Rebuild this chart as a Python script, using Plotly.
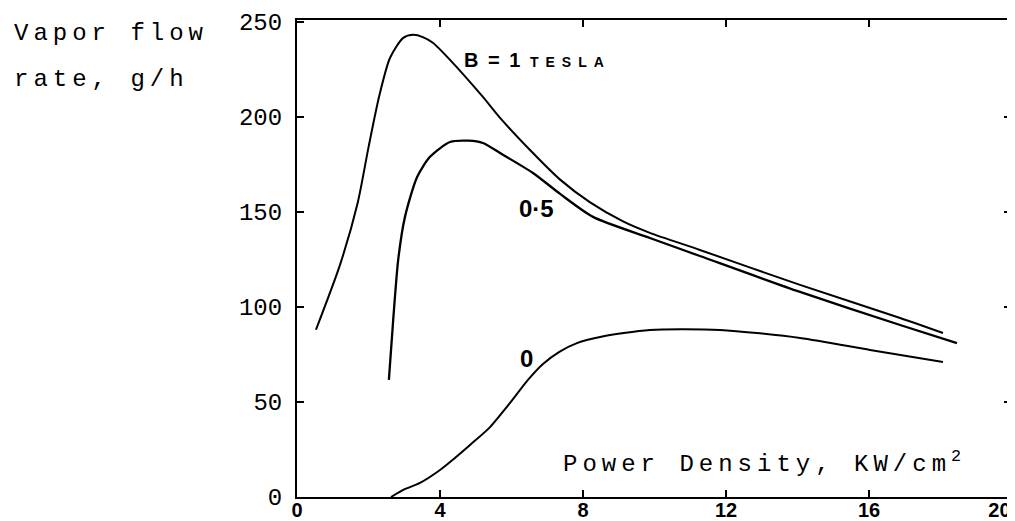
import plotly.graph_objects as go

# ---- data ----
b1_x = [0.53, 1.20, 1.70, 2.00, 2.30, 2.60, 2.97, 3.25, 3.52, 3.80, 4.28, 5.20, 5.68, 6.60, 7.36, 8.20, 9.12, 9.87, 11.27, 14.07, 16.87, 18.07]
b1_y = [88, 122, 155, 184, 211, 231, 241.6, 243.2, 242, 239, 230, 210.5, 199.5, 181, 167, 155, 145, 139, 130, 111.6, 94.2, 86.3]

b05_x = [2.57, 2.69, 2.83, 3.02, 3.36, 3.72, 4.28, 4.80, 5.20, 5.68, 6.60, 7.36, 8.28, 9.87, 11.27, 14.07, 16.87, 18.46]
b05_y = [61.6, 93, 124.7, 147.4, 168.4, 179, 186.8, 187.5, 186.3, 181, 170.5, 159.5, 147.4, 136.3, 126.8, 107.9, 90.5, 81]

b0_x = [2.63, 3.00, 3.44, 4.00, 4.28, 4.84, 5.40, 5.96, 6.46, 6.88, 7.35, 7.83, 8.48, 9.87, 11.83, 14.07, 16.03, 18.07]
b0_y = [0, 4, 7.4, 14.2, 18.4, 27.4, 36.8, 49.5, 61.6, 70, 76.5, 81, 84.2, 87.9, 87.9, 83.7, 77.4, 71]

x_tick_marks = [4, 8, 12, 16]
x_label_text = ["0", "4", "8", "12", "16", "20"]
x_label_pos = [0, 4, 8, 12, 16, 19.65]   # typed labels; the last one sits just inside the page edge
y_ticks = [0, 50, 100, 150, 200, 250]
y_minor = [50, 100, 150, 200]

TYPE = "Liberation Mono"
BOLD = "Liberation Sans"

fig = go.Figure()
fig.add_trace(go.Scatter(x=b1_x, y=b1_y, mode="lines", xaxis="x2", yaxis="y",
                         line=dict(color="black", width=2, shape="spline", smoothing=0.7),
                         showlegend=False, hoverinfo="skip"))
fig.add_trace(go.Scatter(x=b05_x, y=b05_y, mode="lines", xaxis="x", yaxis="y",
                         line=dict(color="black", width=2.3, shape="spline", smoothing=0.7),
                         showlegend=False, hoverinfo="skip"))
fig.add_trace(go.Scatter(x=b0_x, y=b0_y, mode="lines", xaxis="x", yaxis="y2",
                         line=dict(color="black", width=2, shape="spline", smoothing=0.7),
                         showlegend=False, hoverinfo="skip"))

# the page body adds an 8px offset; margins compensate so the plot box sits at
# x 297..1012, y 20..497 in the browser window
fig.update_layout(
    width=1015, height=521,
    margin=dict(l=289, r=11, t=12, b=32),
    paper_bgcolor="white", plot_bgcolor="white",
    showlegend=False,
    xaxis=dict(range=[0, 20], tickvals=x_tick_marks, showticklabels=False,
               showgrid=False, zeroline=False, showline=True, linecolor="black", linewidth=2,
               mirror="ticks", ticks="inside", ticklen=7, tickwidth=2, tickcolor="black",
               automargin=False, fixedrange=True),
    xaxis2=dict(range=[0, 20], overlaying="x", side="bottom", anchor="y",
                tickvals=x_label_pos, ticktext=x_label_text, ticks="",
                showline=False, showgrid=False, zeroline=False,
                ticklabelstandoff=-1, ticklabeloverflow="allow",
                tickfont=dict(family=BOLD, size=20, color="black", weight="bold"),
                automargin=False, fixedrange=True),
    yaxis=dict(range=[0, 251], tickvals=y_ticks, ticktext=[str(v) for v in y_ticks],
               showgrid=False, zeroline=False, showline=True, linecolor="black", linewidth=2,
               ticks="inside", ticklen=7, tickwidth=2, tickcolor="black",
               ticklabelstandoff=8,
               tickfont=dict(family=TYPE, size=24, color="black"),
               automargin=False, fixedrange=True),
    yaxis2=dict(range=[0, 251], overlaying="y", side="right", anchor="x",
                tickvals=y_minor, showticklabels=False, ticks="inside", ticklen=8,
                tickwidth=2, tickcolor="black", showline=False, showgrid=False,
                zeroline=False, automargin=False, fixedrange=True),
)

SP = "letter-spacing:5px"
ann = []
# y-axis title at the top-left
ann.append(dict(text=f"<span style='{SP}'>Vapor flow</span>", xref="paper", yref="paper",
                x=-0.3986, y=1.0 - (34 - 20) / 477,
                xanchor="left", yanchor="middle", showarrow=False,
                font=dict(family=TYPE, size=24, color="black")))
ann.append(dict(text=f"<span style='{SP}'>rate, g/h</span>", xref="paper", yref="paper",
                x=-0.3986, y=1.0 - (80 - 20) / 477,
                xanchor="left", yanchor="middle", showarrow=False,
                font=dict(family=TYPE, size=24, color="black")))
# x-axis title inside the plot
ann.append(dict(text=f"<span style='{SP}'>Power Density, KW/cm</span><sup>2</sup>",
                xref="x", yref="y", x=13.0, y=18,
                xanchor="center", yanchor="middle", showarrow=False,
                font=dict(family=TYPE, size=24, color="black")))
# curve labels
ann.append(dict(text="<span style='letter-spacing:2px'>B = 1 </span>"
                     "<span style='font-size:14px;letter-spacing:7px'>TESLA</span>",
                xref="x", yref="y",
                x=4.62, y=230, xanchor="left", yanchor="middle", showarrow=False,
                font=dict(family=BOLD, size=20, color="black", weight="bold")))
ann.append(dict(text="0·5", xref="x", yref="y", x=6.69, y=152, xanchor="center", yanchor="middle",
                showarrow=False, font=dict(family=BOLD, size=24, color="black", weight="bold")))
ann.append(dict(text="0", xref="x", yref="y", x=6.43, y=73, xanchor="center", yanchor="middle",
                showarrow=False, font=dict(family=BOLD, size=24, color="black", weight="bold")))
fig.update_layout(annotations=ann)

fig.write_html("out.html")
